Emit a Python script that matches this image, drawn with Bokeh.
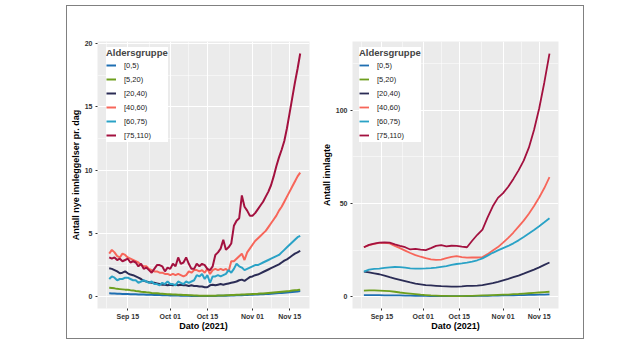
from datetime import datetime, timedelta
from bokeh.plotting import figure
from bokeh.models import (FixedTicker, DatetimeTickFormatter, Legend, LegendItem,
                          Range1d)
from bokeh.layouts import row
from bokeh.embed import file_html
from bokeh.resources import INLINE

# ---------------- data ----------------
groups = ["[0,5)", "[5,20)", "[20,40)", "[40,60)", "[60,75)", "[75,110)"]
colors = ["#1f6fb2", "#6e9f1e", "#2b2c55", "#f7665a", "#2aa2c6", "#a3113f"]

start = datetime(2021, 9, 8)
dates_daily = [start + timedelta(days=i) for i in range(73)]
dates_2day = [start + timedelta(days=2 * i) for i in range(37)]

# Left panel: new admissions per day (daily)
new_0_5 = [0.27, 0.26, 0.25, 0.24, 0.23, 0.22, 0.22, 0.21, 0.2, 0.2,
           0.19, 0.18, 0.17, 0.17, 0.16, 0.15, 0.15, 0.14, 0.13, 0.13,
           0.12, 0.12, 0.11, 0.1, 0.1, 0.09, 0.09, 0.08, 0.08, 0.07,
           0.07, 0.06, 0.06, 0.06, 0.05, 0.05, 0.05, 0.05, 0.05, 0.06,
           0.06, 0.07, 0.07, 0.08, 0.08, 0.09, 0.1, 0.1, 0.11, 0.12,
           0.12, 0.13, 0.14, 0.15, 0.16, 0.17, 0.18, 0.19, 0.2, 0.21,
           0.22, 0.24, 0.25, 0.27, 0.29, 0.3, 0.32, 0.34, 0.36, 0.38,
           0.4, 0.42, 0.45]
new_5_20 = [0.7, 0.68, 0.66, 0.62, 0.6, 0.58, 0.56, 0.55, 0.52, 0.5,
            0.46, 0.44, 0.4, 0.38, 0.35, 0.33, 0.3, 0.28, 0.27, 0.25,
            0.24, 0.22, 0.2, 0.19, 0.18, 0.17, 0.16, 0.15, 0.14, 0.13,
            0.12, 0.11, 0.1, 0.09, 0.08, 0.08, 0.07, 0.07, 0.07, 0.08,
            0.08, 0.09, 0.1, 0.1, 0.11, 0.12, 0.13, 0.14, 0.15, 0.16,
            0.17, 0.18, 0.19, 0.2, 0.21, 0.22, 0.23, 0.25, 0.26, 0.28,
            0.3, 0.32, 0.34, 0.36, 0.38, 0.4, 0.42, 0.44, 0.46, 0.49,
            0.51, 0.53, 0.56]
new_20_40 = [2.25, 2.2, 2.1, 2.0, 1.85, 1.9, 2.0, 1.85, 1.75, 1.7,
             1.6, 1.5, 1.4, 1.25, 1.2, 1.15, 1.1, 1.1, 1.05, 1.0,
             0.95, 0.95, 0.9, 0.95, 0.9, 0.95, 0.9, 0.95, 0.9, 0.9,
             0.85, 0.9, 0.85, 0.85, 0.8, 0.8, 0.75, 0.75, 0.9, 0.95,
             0.9, 0.95, 1.0, 0.95, 1.0, 1.05, 1.1, 1.15, 1.2, 1.3,
             1.35, 1.25, 1.4, 1.55, 1.6, 1.7, 1.75, 1.85, 1.95, 2.05,
             2.15, 2.25, 2.35, 2.45, 2.55, 2.7, 2.85, 2.95, 3.1, 3.25,
             3.4, 3.5, 3.63]
new_40_60 = [3.4, 3.7, 3.5, 3.2, 3.1, 3.4, 3.3, 3.1, 3.0, 2.9,
             2.8, 2.7, 2.5, 2.4, 2.4, 2.2, 2.1, 2.0, 2.0, 1.9,
             1.9, 1.8, 1.8, 1.7, 1.8, 1.7, 1.8, 1.7, 1.6, 1.7,
             2.0, 1.9, 2.1, 2.1, 2.0, 2.1, 1.9, 2.2, 1.8, 2.1,
             2.2, 2.1, 2.2, 2.1, 2.2, 2.0, 2.8, 2.8, 3.0, 3.2,
             3.4, 2.9, 3.5, 3.8, 4.1, 4.4, 4.6, 4.8, 5.0, 5.2,
             5.5, 5.8, 6.1, 6.4, 6.8, 7.1, 7.5, 7.9, 8.3, 8.7,
             9.1, 9.5, 9.8]
new_60_75 = [1.4, 1.6, 1.5, 1.3, 1.4, 1.4, 1.5, 1.5, 1.4, 1.3,
             1.3, 1.1, 1.2, 1.3, 1.2, 1.1, 1.2, 1.0, 1.0, 0.9,
             1.1, 1.0, 1.2, 1.0, 1.0, 0.9, 1.2, 1.1, 1.0, 1.2,
             1.1, 1.2, 1.3, 1.7, 1.6, 1.8, 1.4, 1.7, 1.1, 1.6,
             1.6, 1.7, 1.6, 1.7, 1.8, 2.1, 1.9, 2.2, 2.6, 2.4,
             2.3, 2.1, 2.2, 2.3, 2.4, 2.5, 2.5, 2.6, 2.7, 2.8,
             2.9, 3.0, 3.1, 3.2, 3.3, 3.5, 3.7, 3.9, 4.1, 4.3,
             4.5, 4.7, 4.8]
new_75_110 = [3.1, 3.0, 3.1, 2.9, 3.0, 2.8, 2.9, 3.0, 2.7, 2.8,
              2.7, 2.4, 2.6, 2.2, 2.3, 2.1, 1.9, 2.2, 2.5, 2.5,
              2.4, 2.0, 2.3, 2.2, 2.6, 2.4, 3.1, 2.6, 2.7, 3.1,
              2.6, 2.2, 2.2, 2.6, 2.4, 2.6, 2.5, 2.2, 2.1, 2.4,
              3.3, 3.5, 3.8, 4.5, 3.7, 3.9, 4.2, 5.6, 6.0, 6.2,
              8.0, 7.1, 6.8, 6.4, 6.4, 6.6, 6.9, 7.2, 7.5, 7.9,
              8.3, 8.8, 9.5, 10.3, 11.0, 11.6, 12.3, 13.3, 14.5, 15.7,
              16.9, 18.0, 19.2]

# Right panel: number admitted (every 2nd day)
inn_0_5 = [0.8, 0.8, 0.8, 0.75, 0.7, 0.7, 0.65, 0.6, 0.55, 0.5,
           0.45, 0.4, 0.35, 0.3, 0.3, 0.25, 0.25, 0.2, 0.2, 0.2,
           0.25, 0.3, 0.35, 0.4, 0.45, 0.5, 0.55, 0.6, 0.65, 0.7,
           0.75, 0.8, 0.9, 0.95, 1.0, 1.1, 1.2]
inn_5_20 = [3.2, 3.3, 3.3, 3.2, 3.1, 2.9, 2.6, 2.2, 1.9, 1.6,
            1.3, 1.0, 0.8, 0.6, 0.5, 0.4, 0.35, 0.3, 0.3, 0.3,
            0.35, 0.4, 0.5, 0.6, 0.7, 0.8, 0.9, 1.0, 1.1, 1.3,
            1.4, 1.6, 1.8, 2.0, 2.2, 2.4, 2.6]
inn_20_40 = [13.4, 13.0, 12.5, 12.0, 11.2, 10.4, 9.7, 9.0, 8.3, 7.6,
             7.0, 6.6, 6.2, 6.0, 5.8, 5.6, 5.5, 5.4, 5.4, 5.5,
             5.7, 5.8, 5.9, 6.2, 6.7, 7.2, 7.9, 8.7, 9.5, 10.4,
             11.3, 12.3, 13.4, 14.5, 15.7, 17.0, 18.3]
inn_40_60 = [26.5, 27.6, 28.3, 28.8, 28.8, 28.6, 27.2, 26.0, 24.7, 23.4,
             22.3, 21.4, 20.6, 20.0, 19.7, 19.9, 20.6, 21.3, 21.7, 21.2,
             20.9, 21.0, 21.0, 21.2, 22.8, 24.8, 26.6, 29.0, 31.5, 34.4,
             37.6, 40.8, 44.5, 48.7, 53.2, 58.3, 64.2]
inn_60_75 = [13.4, 14.5, 14.9, 15.0, 15.4, 15.7, 15.9, 15.8, 15.5, 15.2,
             15.0, 15.0, 15.1, 15.3, 15.6, 16.0, 16.4, 17.0, 17.5, 17.8,
             18.2, 18.8, 19.5, 20.5, 22.0, 23.5, 24.8, 26.0, 27.2, 28.6,
             30.2, 32.0, 33.9, 35.8, 37.8, 39.9, 42.1]
inn_75_110 = [26.5, 27.8, 28.5, 29.0, 29.1, 29.0, 28.0, 27.2, 26.5, 25.3,
              25.6, 25.2, 25.0, 26.0, 27.2, 27.6, 27.0, 27.3, 27.2, 26.8,
              26.5, 30.0, 33.2, 36.0, 42.5, 48.5, 53.0, 55.6, 59.0, 63.2,
              67.8, 73.0, 80.0, 89.5, 101.0, 115.0, 130.5]

x_major = [datetime(2021, 9, 15), datetime(2021, 10, 1), datetime(2021, 10, 15),
           datetime(2021, 11, 1), datetime(2021, 11, 15)]
x_minor = [datetime(2021, 9, 7), datetime(2021, 9, 23), datetime(2021, 10, 8),
           datetime(2021, 10, 23, 12), datetime(2021, 11, 8)]

FONT = "Liberation Sans"
EPOCH = datetime(1970, 1, 1)


def ms(d):
    return (d - EPOCH).total_seconds() * 1000.0


def make_panel(xs, series, ylabel, yticks, yminor, yrange,
               ml, fw, mr, lw, legend_x):
    p = figure(x_axis_type="datetime", output_backend="svg",
               toolbar_location=None,
               frame_width=fw, frame_height=267,
               min_border_left=ml, min_border_right=mr,
               min_border_top=35, min_border_bottom=30,
               x_range=Range1d(ms(datetime(2021, 9, 3, 14)),
                               ms(datetime(2021, 11, 22, 12))),
               y_range=Range1d(*yrange))
    p.background_fill_color = "#EBEBEB"
    p.border_fill_color = "white"
    p.outline_line_color = None

    renderers = []
    for vals, col in zip(series, colors):
        r = p.line(xs, vals, line_color=col, line_width=lw)
        renderers.append(r)

    p.xaxis.ticker = FixedTicker(ticks=[ms(d) for d in x_major],
                                 minor_ticks=[ms(d) for d in x_minor])
    p.xaxis.formatter = DatetimeTickFormatter(days="%b %d", months="%b %d")
    p.yaxis.ticker = FixedTicker(ticks=yticks, minor_ticks=yminor)

    for ax in (p.xaxis[0], p.yaxis[0]):
        ax.axis_line_color = None
        ax.major_tick_line_color = "#333333"
        ax.major_tick_out = 2
        ax.major_tick_in = 0
        ax.minor_tick_line_color = None
        ax.major_label_text_font = FONT
        ax.major_label_text_font_size = "7px"
        ax.major_label_text_font_style = "bold"
        ax.major_label_text_color = "#333333"
        ax.major_label_standoff = 1
        ax.axis_label_text_font = FONT
        ax.axis_label_text_font_size = "9px"
        ax.axis_label_text_font_style = "bold"
        ax.axis_label_text_color = "black"
        ax.axis_label_standoff = 1
    p.xaxis.major_label_standoff = 0
    p.xaxis.axis_label_standoff = -2
    p.xaxis.axis_label = "Dato (2021)"
    p.yaxis.axis_label = ylabel

    for g in (p.xgrid[0], p.ygrid[0]):
        g.grid_line_color = "white"
        g.grid_line_width = 1.1
        g.minor_grid_line_color = "white"
        g.minor_grid_line_width = 0.5

    items = [LegendItem(label=lab, renderers=[r]) for lab, r in zip(groups, renderers)]
    leg = Legend(items=items, location=(legend_x, 267 - 101),
                 title="Aldersgruppe")
    leg.title_text_font = FONT
    leg.title_text_font_size = "9.5px"
    leg.title_text_font_style = "bold"
    leg.title_standoff = 0
    leg.label_text_font = FONT
    leg.label_text_font_size = "7.5px"
    leg.label_text_color = "#222222"
    leg.glyph_width = 10
    leg.glyph_height = 14
    leg.label_height = 14
    leg.label_standoff = 8
    leg.spacing = 0
    leg.padding = 5
    leg.margin = 0
    leg.border_line_color = None
    leg.background_fill_color = "white"
    leg.background_fill_alpha = 1.0
    p.add_layout(leg)
    return p


left_series = [new_0_5, new_5_20, new_20_40, new_40_60, new_60_75, new_75_110]
right_series = [inn_0_5, inn_5_20, inn_20_40, inn_40_60, inn_60_75, inn_75_110]

p1 = make_panel(dates_daily, left_series, "Antall nye innleggelser pr. dag",
                [0, 5, 10, 15, 20], [2.5, 7.5, 12.5, 17.5], (-0.93, 20.15),
                30, 212, 9, 2.0, 9)
p2 = make_panel(dates_2day, right_series, "Antall innlagte",
                [0, 50, 100], [25, 75, 125], (-6.4, 137.0),
                27, 206, 25, 1.8, 7)

layout = row(p1, p2, margin=(5, 0, 0, 66),
             styles={"border": "1px solid #808080"})

open("out.html", "w").write(file_html(layout, INLINE))
